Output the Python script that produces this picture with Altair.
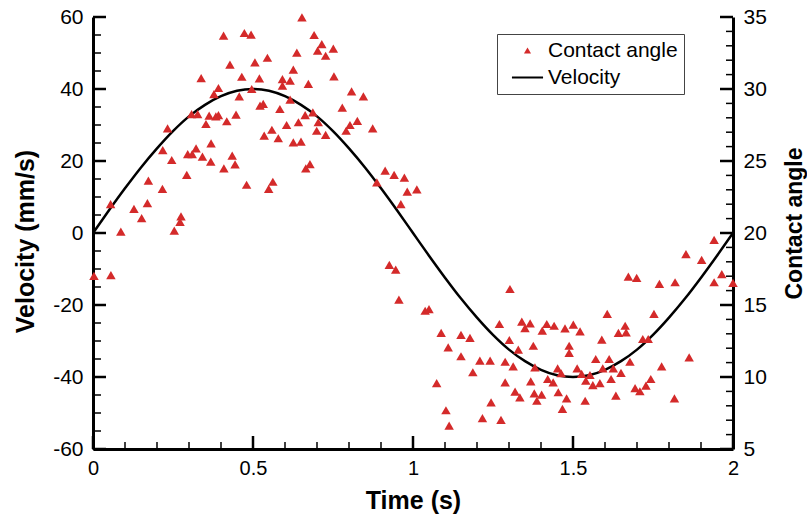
import altair as alt
import pandas as pd

FONT = "Liberation Sans, Arial, Helvetica, sans-serif"
RED = "#d42a2a"
LINE_PATH = "M-4.4,-0.3L4.4,-0.3L4.4,0.3L-4.4,0.3Z"

# ---- Velocity curve, Time in s, velocity in mm/s
vel_time = [0.0, 0.05, 0.1, 0.15, 0.2, 0.25, 0.3, 0.35, 0.4, 0.45,
            0.5, 0.55, 0.6, 0.65, 0.7, 0.75, 0.8, 0.85, 0.9, 0.95,
            1.0, 1.05, 1.1, 1.15, 1.2, 1.25, 1.3, 1.35, 1.4, 1.45,
            1.5, 1.55, 1.6, 1.65, 1.7, 1.75, 1.8, 1.85, 1.9, 1.95, 2.0]
velocity = [0.0, 6.3, 12.4, 18.2, 23.5, 28.3, 32.4, 35.6, 38.0, 39.5,
            40.0, 39.5, 38.0, 35.6, 32.4, 28.3, 23.5, 18.2, 12.4, 6.3,
            0.0, -6.3, -12.4, -18.2, -23.5, -28.3, -32.4, -35.6, -38.0, -39.5,
            -40.0, -39.5, -38.0, -35.6, -32.4, -28.3, -23.5, -18.2, -12.4, -6.3, 0.0]

# ---- Contact angle scatter
ca_time = [
    0.055, 0.087, 0.128, 0.152, 0.170, 0.173, 0.217, 0.218, 0.233, 0.246,
    0.254, 0.272, 0.275, 0.293, 0.296, 0.310, 0.322, 0.308, 0.327, 0.338,
    0.342, 0.353, 0.363, 0.369, 0.368, 0.378, 0.384, 0.392, 0.392, 0.408,
    0.409, 0.418, 0.428, 0.435, 0.444, 0.447, 0.457, 0.465, 0.473, 0.480,
    0.494, 0.496, 0.506, 0.520, 0.522, 0.532, 0.535, 0.545, 0.549, 0.559,
    0.562, 0.579, 0.584, 0.592, 0.592, 0.605, 0.616, 0.616, 0.626, 0.626,
    0.637, 0.642, 0.650, 0.653, 0.663, 0.665, 0.673, 0.678, 0.687, 0.691,
    0.699, 0.702, 0.704,
    0.715, 0.751, 0.727, 0.753, 0.808, 0.845, 0.779, 0.727, 0.791, 0.803,
    0.826, 0.874, 0.913, 0.941, 0.973, 0.887, 0.982, 1.012, 0.962,
    0.003, 0.056, 0.926, 0.946, 0.956, 1.038, 1.050, 1.088, 1.110, 1.074,
    1.103, 1.113,
    1.150, 1.150, 1.178, 1.187, 1.209, 1.217, 1.241, 1.244, 1.270, 1.275,
    1.288, 1.288, 1.303, 1.301, 1.313, 1.319, 1.334, 1.329, 1.340, 1.350,
    1.366, 1.368, 1.376, 1.379, 1.381, 1.387, 1.402, 1.404, 1.418, 1.421,
    1.441, 1.438, 1.452, 1.454, 1.463, 1.467, 1.475, 1.480, 1.488, 1.488,
    1.501, 1.513, 1.522, 1.527, 1.538, 1.540, 1.553, 1.562, 1.571, 1.584,
    1.590, 1.593, 1.607, 1.613, 1.619, 1.626, 1.634, 1.642, 1.650, 1.663,
    1.666, 1.673, 1.678, 1.694, 1.699, 1.709, 1.718, 1.728, 1.735, 1.743,
    1.753, 1.770, 1.777, 1.817, 1.819, 1.853, 1.863, 1.902, 1.941, 1.941,
    1.965, 2.0,
]
ca_angle = [
    22.01, 20.09, 21.67, 21.04, 22.08, 23.63, 23.06, 25.76, 27.27, 25.07,
    20.16, 20.78, 21.16, 24.03, 25.47, 25.47, 25.88, 28.26, 28.26, 30.76,
    25.30, 27.57, 28.15, 26.23, 24.95, 29.65, 28.10, 30.07, 28.19, 33.70,
    24.49, 27.76, 31.70, 25.37, 24.77, 28.22, 29.49, 30.85, 33.89, 23.35,
    33.77, 30.00, 31.85, 30.74, 28.84, 28.96, 26.76, 32.17, 23.06, 27.17,
    23.56, 26.58, 28.61, 30.69, 30.23, 27.50, 30.58, 29.26, 31.34, 26.30,
    32.52, 27.69, 26.34, 34.98, 28.19, 24.49, 30.35, 24.79, 28.38, 33.75,
    27.10, 32.66, 27.69,
    33.12, 32.80, 32.31, 30.88, 29.84, 29.49, 28.70, 26.81, 27.10, 27.50,
    27.78, 27.27, 24.33, 24.03, 23.84, 23.52, 22.87, 23.03, 22.01,
    17.03, 17.08, 17.78, 17.45, 15.37, 14.60, 14.72, 13.06, 12.06, 9.58,
    7.69, 6.62,
    12.92, 11.44, 12.71, 10.33, 11.13, 7.15, 11.13, 8.24, 13.68, 7.03,
    11.06, 9.63, 16.11, 12.57, 10.74, 8.98, 8.59, 11.90, 13.84, 13.40,
    13.73, 9.70, 12.17, 8.87, 10.67, 8.35, 8.77, 13.22, 13.68, 9.86,
    13.56, 9.63, 10.60, 8.94, 10.26, 7.78, 13.38, 8.52, 12.17, 11.67,
    13.63, 10.60, 13.17, 10.21, 8.35, 9.74, 10.14, 9.44, 11.25, 9.58,
    12.59, 10.60, 14.38, 11.25, 9.86, 10.60, 8.70, 13.06, 10.28, 13.56,
    13.10, 16.97, 11.06, 9.22, 16.88, 9.01, 12.64, 9.40, 12.64, 9.86,
    14.38, 16.46, 10.74, 8.52, 16.58, 18.54, 11.37, 18.13, 19.53, 16.58,
    17.15, 16.53,
]

series_names = ["Contact angle", "Velocity"]

# ---- tick values
x_major = [0, 0.5, 1, 1.5, 2]
x_minor = [0.1, 0.2, 0.3, 0.4, 0.6, 0.7, 0.8, 0.9, 1.1, 1.2, 1.3, 1.4,
           1.6, 1.7, 1.8, 1.9]
left_major = [-60, -40, -20, 0, 20, 40, 60]
left_minor = [-55, -50, -45, -35, -30, -25, -15, -10, -5, 5, 10, 15,
              25, 30, 35, 45, 50, 55]
right_major = [5, 10, 15, 20, 25, 30, 35]
right_minor = [6, 7, 8, 9, 11, 12, 13, 14, 16, 17, 18, 19, 21, 22, 23, 24,
               26, 27, 28, 29, 31, 32, 33, 34]

W, H = 640, 432
X_DOM = [0, 2]
L_DOM = [-60, 60]
R_DOM = [5, 35]

vel_df = pd.DataFrame({"t": vel_time, "v": velocity})
ca_df = pd.DataFrame({"t": ca_time, "angle": ca_angle,
                      "series": ["Contact angle"] * len(ca_time)})

xscale = alt.Scale(domain=X_DOM, nice=False, zero=False)
lscale = alt.Scale(domain=L_DOM, nice=False, zero=False)
rscale = alt.Scale(domain=R_DOM, nice=False, zero=False)

x_axis = alt.Axis(
    values=x_major, labelExpr="'' + datum.value", ticks=False, grid=False,
    domainColor="black", domainWidth=3, labelFont=FONT, labelFontSize=20,
    labelColor="black", labelPadding=9, labelFlush=False,
    title="Time (s)", titleFont=FONT, titleFontSize=25, titleFontWeight="bold",
    titleColor="black", titleX=W / 2, titleY=59, titleBaseline="alphabetic",
    titleAlign="center",
)
left_axis = alt.Axis(
    orient="left", values=left_major, labelExpr="'' + datum.value",
    ticks=False, grid=False, domainColor="black", domainWidth=3,
    labelFont=FONT, labelFontSize=21, labelColor="black", labelPadding=10,
    title="Velocity (mm/s)", titleFont=FONT, titleFontSize=25,
    titleFontWeight="bold", titleColor="black", titleAngle=270,
    titleX=-60, titleY=224, titleBaseline="alphabetic", titleAlign="center",
)
right_axis = alt.Axis(
    orient="right", values=right_major, labelExpr="'' + datum.value",
    ticks=False, grid=False, domainColor="black", domainWidth=3,
    labelFont=FONT, labelFontSize=21, labelColor="black", labelPadding=10,
    title="Contact angle", titleFont=FONT, titleFontSize=23,
    titleFontWeight="bold", titleColor="black", titleAngle=270,
    titleX=68, titleY=206, titleBaseline="alphabetic", titleAlign="center",
)

legend = alt.Legend(
    title=None, orient="none", legendX=404, legendY=17, padding=6,
    strokeColor="#444444", fillColor="white", labelFont=FONT,
    labelFontSize=21, labelColor="black", symbolSize=50, symbolOffset=14,
    labelOffset=10, rowPadding=5, symbolStrokeWidth=0,
)

# every layer sharing the x scale uses the same field and the same axis
X_ENC = alt.X("t:Q", scale=xscale, axis=x_axis)

# ---- velocity line (left axis)
line = alt.Chart(vel_df).mark_line(
    color="black", strokeWidth=2.5, interpolate="monotone"
).encode(
    x=X_ENC,
    y=alt.Y("v:Q", scale=lscale, axis=left_axis),
)

# ---- contact angle points (right axis)
points = alt.Chart(ca_df).mark_point(
    filled=True, opacity=1, size=90, strokeWidth=0
).encode(
    x=X_ENC,
    y=alt.Y("angle:Q", scale=rscale, axis=right_axis),
    color=alt.Color("series:N", scale=alt.Scale(domain=series_names,
                                                range=[RED, "black"]),
                    legend=legend),
    shape=alt.Shape("series:N", scale=alt.Scale(domain=series_names,
                                                range=["triangle-up", LINE_PATH]),
                    legend=legend),
)

# inward tick marks
xmaj = alt.Chart(pd.DataFrame({"t": x_major})).mark_rule(
    color="black", strokeWidth=2.5).encode(
    x=X_ENC, y=alt.value(H), y2=alt.value(H - 13))
xmin = alt.Chart(pd.DataFrame({"t": x_minor})).mark_rule(
    color="black", strokeWidth=1.5).encode(
    x=X_ENC, y=alt.value(H), y2=alt.value(H - 7))
lmaj = alt.Chart(pd.DataFrame({"ty": left_major})).mark_rule(
    color="black", strokeWidth=2.5).encode(
    y=alt.Y("ty:Q", scale=lscale, axis=None),
    x=alt.value(0), x2=alt.value(13))
lmin = alt.Chart(pd.DataFrame({"ty": left_minor})).mark_rule(
    color="black", strokeWidth=1.5).encode(
    y=alt.Y("ty:Q", scale=lscale, axis=None),
    x=alt.value(0), x2=alt.value(8))
rmaj = alt.Chart(pd.DataFrame({"ty": right_major})).mark_rule(
    color="black", strokeWidth=2.5).encode(
    y=alt.Y("ty:Q", scale=rscale, axis=None),
    x=alt.value(W), x2=alt.value(W - 13))
rmin = alt.Chart(pd.DataFrame({"ty": right_minor})).mark_rule(
    color="black", strokeWidth=1.5).encode(
    y=alt.Y("ty:Q", scale=rscale, axis=None),
    x=alt.value(W), x2=alt.value(W - 7))

chart = alt.layer(
    line, points, xmaj, xmin, lmaj, lmin, rmaj, rmin
).resolve_scale(
    y="independent"
).properties(
    width=W, height=H,
    padding={"left": 93, "top": 17, "right": 74, "bottom": 65},
    autosize=alt.AutoSizeParams(type="none"),
    background="white",
).configure_view(stroke=None)

chart.save("out.html", embed_options={"renderer": "svg", "actions": False})
